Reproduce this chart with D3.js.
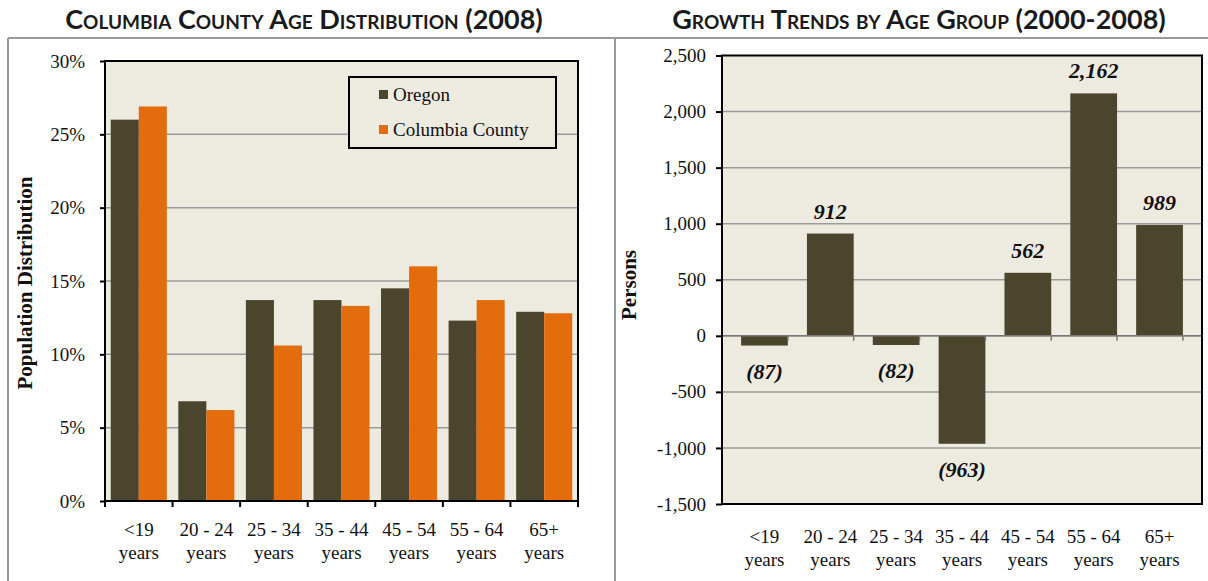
<!DOCTYPE html>
<html>
<head>
<meta charset="utf-8">
<script src="https://cdn.jsdelivr.net/npm/d3@7"></script>
<style>
  body { margin: 0; background: #fff; }
  svg text { font-family: "Liberation Serif", serif; fill: #111; }
  .title { font-family: Lato, "Open Sans", sans-serif; font-weight: 700; font-variant: small-caps; fill: #1a1a1a; }
</style>
</head>
<body>
<div id="chart"></div>
<script>
// Chart data
var ageGroups = ["<19|years", "20 - 24|years", "25 - 34|years", "35 - 44|years", "45 - 54|years", "55 - 64|years", "65+|years"];
var oregonShare = [26.0, 6.8, 13.7, 13.7, 14.5, 12.3, 12.9];
var columbiaShare = [26.9, 6.2, 10.6, 13.3, 16.0, 13.7, 12.8];
var growth = [-87, 912, -82, -963, 562, 2162, 989];
var pctTicks = [0, 5, 10, 15, 20, 25, 30];
var growthTicks = [-1500, -1000, -500, 0, 500, 1000, 1500, 2000, 2500];
var seriesNames = ["Oregon", "Columbia County"];

var olive = "#4a452c";
var orange = "#e36c0d";
var plotBg = "#edeae0";
var gridColor = "#9a9a9a";

var width = 1208, height = 581;
var tickFont = "19px";

// plain hyphen for negatives, like the original
var numFormat = d3.formatLocale({ decimal: ".", thousands: ",", grouping: [3], currency: ["", ""], minus: "-" }).format(",");

var svg = d3.select("#chart")
  .append("svg")
  .attr("width", width)
  .attr("height", height);

// panel frame lines
svg.append("line").attr("x1", 8).attr("x2", width).attr("y1", 38).attr("y2", 38)
  .style("stroke", "#999").style("stroke-width", 2);
svg.append("line").attr("x1", 8).attr("x2", 8).attr("y1", 38).attr("y2", height)
  .style("stroke", "#999").style("stroke-width", 2);
svg.append("line").attr("x1", 615).attr("x2", 615).attr("y1", 38).attr("y2", height)
  .style("stroke", "#999").style("stroke-width", 2);

// titles
svg.append("text").attr("class", "title")
  .attr("x", 304).attr("y", 29).attr("text-anchor", "middle")
  .style("font-size", "27px")
  .text("Columbia County Age Distribution (2008)");
svg.append("text").attr("class", "title")
  .attr("x", 919).attr("y", 29).attr("text-anchor", "middle")
  .style("font-size", "27px")
  .text("Growth Trends by Age Group (2000-2008)");

function wrapLabel(sel) {
  sel.each(function(d) {
    var t = d3.select(this);
    var parts = d.split("|");
    t.text(null);
    parts.forEach(function(p, i) {
      t.append("tspan").attr("x", 0).attr("dy", i == 0 ? 0 : "1.2em").text(p);
    });
  });
}

// ---------- Left chart ----------
var L = { left: 105, right: 578, top: 61, bottom: 501 };

var xL = d3.scaleBand()
  .domain(ageGroups)
  .range([L.left, L.right])
  .paddingInner(0.17)
  .paddingOuter(0.085);

var xSub = d3.scaleBand()
  .domain(seriesNames)
  .range([0, xL.bandwidth()]);

var yL = d3.scaleLinear()
  .domain([0, 30])
  .range([L.bottom, L.top]);

var gL = svg.append("g");

gL.append("rect")
  .attr("x", L.left).attr("y", L.top)
  .attr("width", L.right - L.left).attr("height", L.bottom - L.top)
  .style("fill", plotBg);

gL.selectAll(".grid")
  .data(pctTicks.filter(function(d) { return d > 0 && d < 30; }))
  .enter().append("line")
  .attr("x1", L.left).attr("x2", L.right)
  .attr("y1", function(d) { return yL(d); })
  .attr("y2", function(d) { return yL(d); })
  .style("stroke", gridColor).style("stroke-width", 1.5);

var seriesL = [oregonShare, columbiaShare];
var colorsL = [olive, orange];
seriesL.forEach(function(vals, s) {
  gL.selectAll(".bar" + s)
    .data(vals)
    .enter().append("rect")
    .attr("x", function(d, i) { return xL(ageGroups[i]) + xSub(seriesNames[s]); })
    .attr("y", function(d) { return yL(d); })
    .attr("width", xSub.bandwidth())
    .attr("height", function(d) { return yL(0) - yL(d); })
    .style("fill", colorsL[s]);
});

// plot border
gL.append("rect")
  .attr("x", L.left).attr("y", L.top)
  .attr("width", L.right - L.left).attr("height", L.bottom - L.top)
  .style("fill", "none").style("stroke", "#000").style("stroke-width", 2);

// y axis
var yAxisL = d3.axisLeft(yL)
  .tickValues(pctTicks)
  .tickSize(5)
  .tickFormat(function(d) { return d + "%"; });
var yaL = gL.append("g").attr("transform", "translate(" + L.left + ",0)").call(yAxisL);
yaL.select(".domain").remove();
yaL.selectAll("line").style("stroke", "#000").style("stroke-width", 2);
yaL.selectAll("text").attr("x", -20).style("font-size", tickFont).style("font-family", "Liberation Serif, serif");

// x axis ticks at category boundaries
var boundsL = ageGroups.map(function(d) { return xL(d) - xL.step() * xL.paddingInner() / 2; });
boundsL.push(L.right);
gL.selectAll(".xtick")
  .data(boundsL)
  .enter().append("line")
  .attr("x1", function(d) { return d; }).attr("x2", function(d) { return d; })
  .attr("y1", L.bottom).attr("y2", L.bottom + 6)
  .style("stroke", "#000").style("stroke-width", 2);

gL.selectAll(".xlab")
  .data(ageGroups)
  .enter().append("text")
  .attr("transform", function(d) { return "translate(" + (xL(d) + xL.bandwidth() / 2) + "," + (L.bottom + 35) + ")"; })
  .attr("text-anchor", "middle")
  .style("font-size", tickFont)
  .call(wrapLabel);

svg.append("text")
  .attr("transform", "translate(32,283) rotate(-90)")
  .attr("text-anchor", "middle")
  .style("font-size", "21px").style("font-weight", "bold")
  .text("Population Distribution");

// legend
var lg = svg.append("g").attr("transform", "translate(349,77)");
lg.append("rect").attr("width", 207).attr("height", 71)
  .style("fill", plotBg).style("stroke", "#000").style("stroke-width", 2);
seriesNames.forEach(function(name, i) {
  lg.append("rect")
    .attr("x", 30).attr("y", 13 + i * 35)
    .attr("width", 9).attr("height", 9)
    .style("fill", colorsL[i]);
  lg.append("text")
    .attr("x", 44).attr("y", 24 + i * 35)
    .style("font-size", tickFont)
    .text(name);
});

// ---------- Right chart ----------
var R = { left: 722, right: 1202, top: 55.5, bottom: 504 };

var xR = d3.scaleBand()
  .domain(ageGroups)
  .range([R.left, R.right])
  .padding(0.29);

var yR = d3.scaleLinear()
  .domain([-1500, 2500])
  .range([R.bottom, R.top]);

var gR = svg.append("g");

gR.append("rect")
  .attr("x", R.left).attr("y", R.top)
  .attr("width", R.right - R.left).attr("height", R.bottom - R.top)
  .style("fill", plotBg);

gR.selectAll(".grid")
  .data(growthTicks.filter(function(d) { return d > -1500 && d < 2500; }))
  .enter().append("line")
  .attr("x1", R.left).attr("x2", R.right)
  .attr("y1", function(d) { return yR(d); })
  .attr("y2", function(d) { return yR(d); })
  .style("stroke", gridColor).style("stroke-width", 1.5);

gR.selectAll(".bar")
  .data(growth)
  .enter().append("rect")
  .attr("x", function(d, i) { return xR(ageGroups[i]); })
  .attr("y", function(d) { return yR(Math.max(0, d)); })
  .attr("width", xR.bandwidth())
  .attr("height", function(d) { return Math.abs(yR(d) - yR(0)); })
  .style("fill", olive);

// zero axis with ticks
gR.append("line")
  .attr("x1", R.left).attr("x2", R.right)
  .attr("y1", yR(0)).attr("y2", yR(0))
  .style("stroke", "#777").style("stroke-width", 1.5);
var boundsR = d3.range(0, ageGroups.length + 1).map(function(i) { return R.left + i * xR.step(); });
gR.selectAll(".xtick")
  .data(boundsR)
  .enter().append("line")
  .attr("x1", function(d) { return d; }).attr("x2", function(d) { return d; })
  .attr("y1", yR(0)).attr("y2", yR(0) + 5)
  .style("stroke", "#777").style("stroke-width", 1.5);

gR.append("rect")
  .attr("x", R.left).attr("y", R.top)
  .attr("width", R.right - R.left).attr("height", R.bottom - R.top)
  .style("fill", "none").style("stroke", "#000").style("stroke-width", 2);

var yAxisR = d3.axisLeft(yR)
  .tickValues(growthTicks)
  .tickSize(6)
  .tickFormat(numFormat);
var yaR = gR.append("g").attr("transform", "translate(" + R.left + ",0)").call(yAxisR);
yaR.select(".domain").remove();
yaR.selectAll("line").style("stroke", "#000").style("stroke-width", 2);
yaR.selectAll("text").attr("x", -16).style("font-size", tickFont).style("font-family", "Liberation Serif, serif");

// value labels
gR.selectAll(".val")
  .data(growth)
  .enter().append("text")
  .attr("x", function(d, i) { return xR(ageGroups[i]) + xR.bandwidth() / 2; })
  .attr("y", function(d) { return d >= 0 ? yR(d) - 15 : yR(d) + 33; })
  .attr("text-anchor", "middle")
  .style("font-size", "22px").style("font-weight", "bold").style("font-style", "italic")
  .text(function(d) { return d >= 0 ? numFormat(d) : "(" + numFormat(-d) + ")"; });

gR.selectAll(".xlab")
  .data(ageGroups)
  .enter().append("text")
  .attr("transform", function(d) { return "translate(" + (xR(d) + xR.bandwidth() / 2) + "," + (R.bottom + 39) + ")"; })
  .attr("text-anchor", "middle")
  .style("font-size", tickFont)
  .call(wrapLabel);

svg.append("text")
  .attr("transform", "translate(636,285) rotate(-90)")
  .attr("text-anchor", "middle")
  .style("font-size", "21px").style("font-weight", "bold")
  .text("Persons");
</script>
</body>
</html>
